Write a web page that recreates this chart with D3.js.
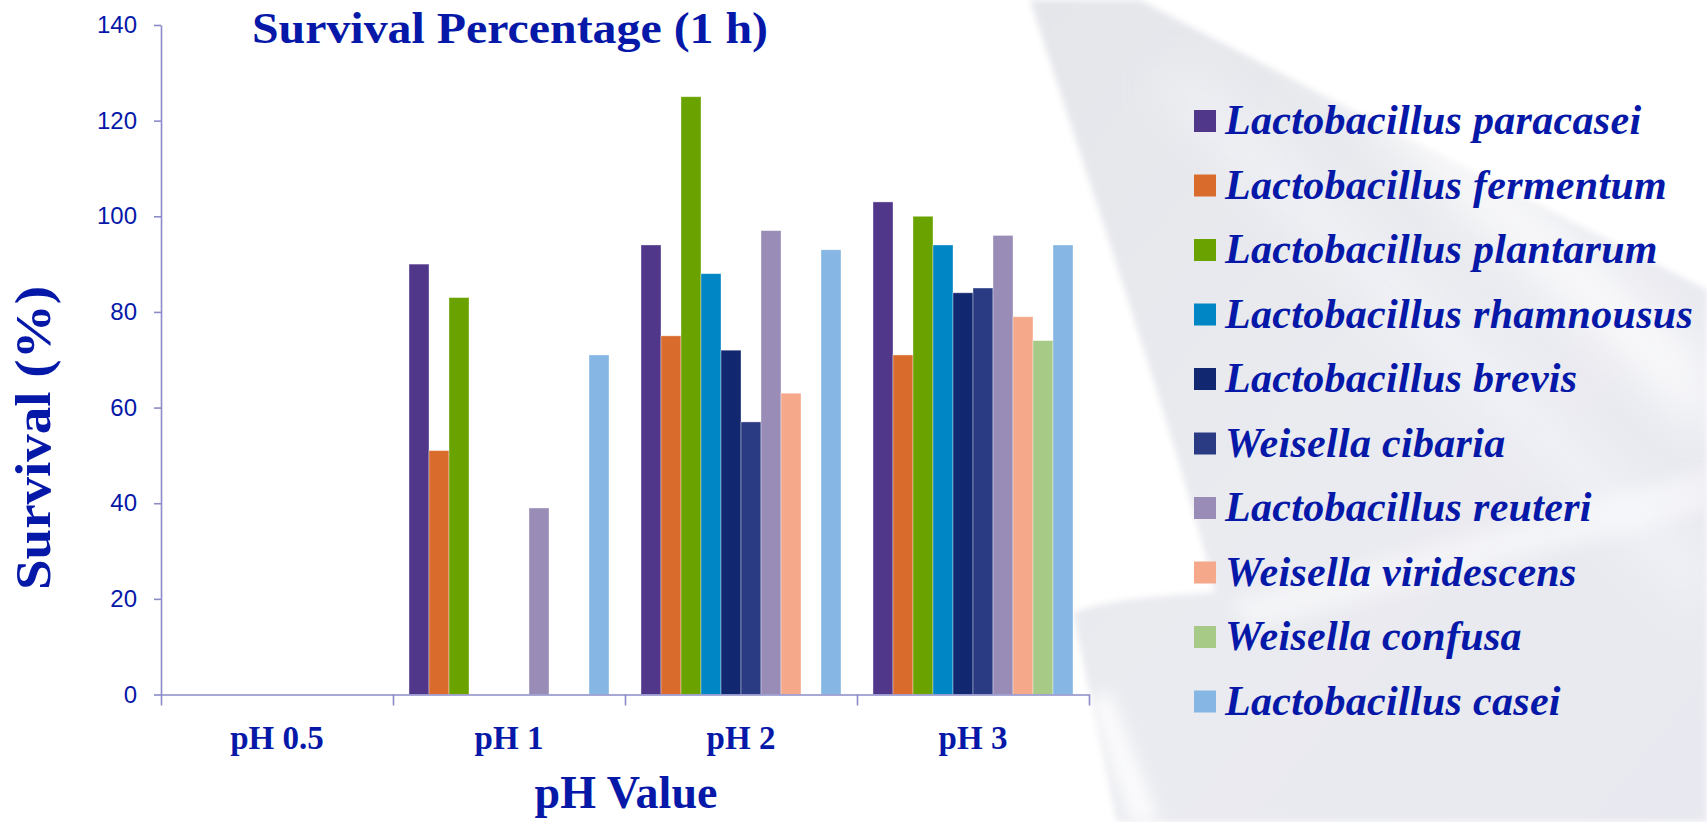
<!DOCTYPE html>
<html>
<head>
<meta charset="utf-8">
<script src="https://cdn.jsdelivr.net/npm/d3@7"></script>
<style>
  body { margin: 0; background: #fff; }
  svg { display: block; }
</style>
</head>
<body>
<div id="chart"></div>
<script>
// data
const categories = ["pH 0.5", "pH 1", "pH 2", "pH 3"];
const species = [
    "Lactobacillus paracasei", "Lactobacillus fermentum", "Lactobacillus plantarum",
    "Lactobacillus rhamnousus", "Lactobacillus brevis", "Weisella cibaria",
    "Lactobacillus reuteri", "Weisella viridescens", "Weisella confusa", "Lactobacillus casei"
];
const paracasei   = [0, 90, 94, 103];
const fermentum   = [0, 51, 75, 71];
const plantarum   = [0, 83, 125, 100];
const rhamnosus   = [0, 0, 88, 94];
const brevis      = [0, 0, 72, 84];
const cibaria     = [0, 0, 57, 85];
const reuteri     = [0, 39, 97, 96];
const viridescens = [0, 0, 63, 79];
const confusa     = [0, 0, 0, 74];
const casei       = [0, 71, 93, 94];
const yTicks = [0, 20, 40, 60, 80, 100, 120, 140];

const seriesValues = [paracasei, fermentum, plantarum, rhamnosus, brevis,
    cibaria, reuteri, viridescens, confusa, casei];
const colors = ["#50378a", "#d96c2c", "#6aa300", "#0086c4", "#112870",
    "#2a3b84", "#998db7", "#f5a88a", "#a7ca86", "#86b7e4"];

const width = 1707, height = 822;
const textBlue = "#0618a8";
const axisColor = "#8b8bc9";
const plot = { left: 161, right: 1089, top: 25, bottom: 694.5 };

const svg = d3.select("#chart").append("svg")
    .attr("width", width)
    .attr("height", height);

// ---- background swoosh (slide template decoration) ----
const defs = svg.append("defs");
const g1 = defs.append("linearGradient").attr("id", "bgGray")
    .attr("x1", "0").attr("y1", "0").attr("x2", "1").attr("y2", "1");
g1.append("stop").attr("offset", "0%").attr("stop-color", "#e5e6ea");
g1.append("stop").attr("offset", "50%").attr("stop-color", "#eaebf0");
g1.append("stop").attr("offset", "100%").attr("stop-color", "#e8e8f0");
defs.append("filter").attr("id", "edge").attr("x", "-10%").attr("y", "-10%")
    .attr("width", "120%").attr("height", "120%")
    .append("feGaussianBlur").attr("stdDeviation", 3);
defs.append("filter").attr("id", "soft").attr("x", "-50%").attr("y", "-50%")
    .attr("width", "200%").attr("height", "200%")
    .append("feGaussianBlur").attr("stdDeviation", 22);
defs.append("filter").attr("id", "soft2").attr("x", "-50%").attr("y", "-50%")
    .attr("width", "200%").attr("height", "200%")
    .append("feGaussianBlur").attr("stdDeviation", 8);

const bg = svg.append("g").attr("class", "background");
bg.append("path")
    .attr("d", "M1030,0 L1140,0 C1330,100 1530,200 1707,290 L1707,822 L1117,822 " +
        "C1100,740 1085,670 1073,613 C1110,598 1170,596 1215,592 C1180,450 1095,200 1030,0 Z")
    .attr("fill", "url(#bgGray)")
    .attr("filter", "url(#edge)");
// lighter streaks inside the swoosh
bg.append("path")
    .attr("d", "M1290,40 L1350,40 L1707,360 L1707,440 Z")
    .attr("fill", "#ffffff").attr("opacity", 0.75).attr("filter", "url(#soft)");
bg.append("path")
    .attr("d", "M1150,80 L1200,80 L1707,560 L1707,620 Z")
    .attr("fill", "#f4f6fb").attr("opacity", 0.7).attr("filter", "url(#soft)");
bg.append("path")
    .attr("d", "M1090,700 L1110,690 L1160,822 L1130,822 Z")
    .attr("fill", "#ffffff").attr("opacity", 0.8).attr("filter", "url(#soft2)");
bg.append("path")
    .attr("d", "M1230,600 L1707,470 L1707,510 L1250,630 Z")
    .attr("fill", "#ffffff").attr("opacity", 0.45).attr("filter", "url(#soft2)");

// ---- scales ----
const x0 = d3.scaleBand().domain(categories).range([plot.left, plot.right]).padding(0);
const x1 = d3.scaleBand().domain(species).range([16, x0.bandwidth() - 16]).padding(0);
const y = d3.scaleLinear().domain([0, 140]).range([plot.bottom, plot.top]);
const xEdges = d3.scaleLinear().domain([0, categories.length]).range([plot.left, plot.right]);

// ---- bars ----
const rows = categories.map((c, i) => ({
    category: c,
    values: species.map((s, j) => ({ key: s, value: seriesValues[j][i], color: colors[j] }))
}));

svg.append("g")
    .selectAll("g")
    .data(rows)
    .join("g")
    .attr("transform", d => `translate(${x0(d.category)},0)`)
    .selectAll("rect")
    .data(d => d.values.filter(v => v.value > 0))
    .join("rect")
    .attr("x", d => x1(d.key))
    .attr("y", d => y(d.value))
    .attr("width", x1.bandwidth())
    .attr("height", d => y(0) - y(d.value))
    .attr("fill", d => d.color)
    .attr("stroke", "rgba(255,255,255,0.45)")
    .attr("stroke-width", 0.8);

// ---- y axis ----
const yAxis = svg.append("g")
    .attr("transform", `translate(${plot.left},0)`)
    .call(d3.axisLeft(y).tickValues(yTicks).tickSize(7).tickSizeOuter(0).tickPadding(17));
yAxis.select(".domain").attr("stroke", axisColor).attr("stroke-width", 1.6);
yAxis.selectAll(".tick line").attr("stroke", axisColor).attr("stroke-width", 1.6);
yAxis.selectAll(".tick text")
    .attr("fill", textBlue)
    .style("font-family", "'Liberation Sans', Arial, sans-serif")
    .style("font-size", "24px");

// ---- x axis: line + boundary ticks ----
const xAxis = svg.append("g")
    .attr("transform", `translate(0,${plot.bottom})`)
    .call(d3.axisBottom(xEdges).tickValues(d3.range(categories.length + 1))
        .tickFormat("").tickSize(11).tickSizeOuter(0));
xAxis.select(".domain").attr("stroke", axisColor).attr("stroke-width", 1.6);
xAxis.selectAll(".tick line").attr("stroke", axisColor).attr("stroke-width", 1.6);

// category labels
const xLabels = svg.append("g")
    .attr("transform", `translate(0,${plot.bottom})`)
    .call(d3.axisBottom(x0).tickSize(0).tickPadding(0));
xLabels.select(".domain").remove();
xLabels.selectAll(".tick text")
    .attr("dy", null)
    .attr("y", 54)
    .attr("fill", textBlue)
    .style("font-family", "'Liberation Serif', 'Times New Roman', serif")
    .style("font-weight", "bold")
    .style("font-size", "33px");

// ---- titles ----
svg.append("text")
    .attr("x", 252)
    .attr("y", 43)
    .attr("textLength", 516)
    .attr("lengthAdjust", "spacingAndGlyphs")
    .attr("fill", textBlue)
    .style("font-family", "'Liberation Serif', 'Times New Roman', serif")
    .style("font-weight", "bold")
    .style("font-size", "45px")
    .text("Survival Percentage (1 h)");

svg.append("text")
    .attr("text-anchor", "middle")
    .attr("transform", "translate(50,438) rotate(-90)")
    .attr("textLength", 304)
    .attr("lengthAdjust", "spacingAndGlyphs")
    .attr("fill", textBlue)
    .style("font-family", "'Liberation Serif', 'Times New Roman', serif")
    .style("font-weight", "bold")
    .style("font-size", "50px")
    .text("Survival (%)");

svg.append("text")
    .attr("text-anchor", "middle")
    .attr("x", 626)
    .attr("y", 808)
    .attr("fill", textBlue)
    .style("font-family", "'Liberation Serif', 'Times New Roman', serif")
    .style("font-weight", "bold")
    .style("font-size", "46px")
    .text("pH Value");

// ---- legend ----
const legend = svg.append("g").attr("transform", "translate(1194,110)");
const item = legend.selectAll("g")
    .data(species)
    .join("g")
    .attr("transform", (d, i) => `translate(0,${i * 64.5})`);
item.append("rect")
    .attr("width", 22)
    .attr("height", 22)
    .attr("fill", (d, i) => colors[i]);
item.append("text")
    .attr("x", 31)
    .attr("y", 24)
    .attr("fill", textBlue)
    .style("font-family", "'Liberation Serif', 'Times New Roman', serif")
    .style("font-weight", "bold")
    .style("font-style", "italic")
    .style("font-size", "42px")
    .style("letter-spacing", "0.3px")
    .text(d => d);
</script>
</body>
</html>
